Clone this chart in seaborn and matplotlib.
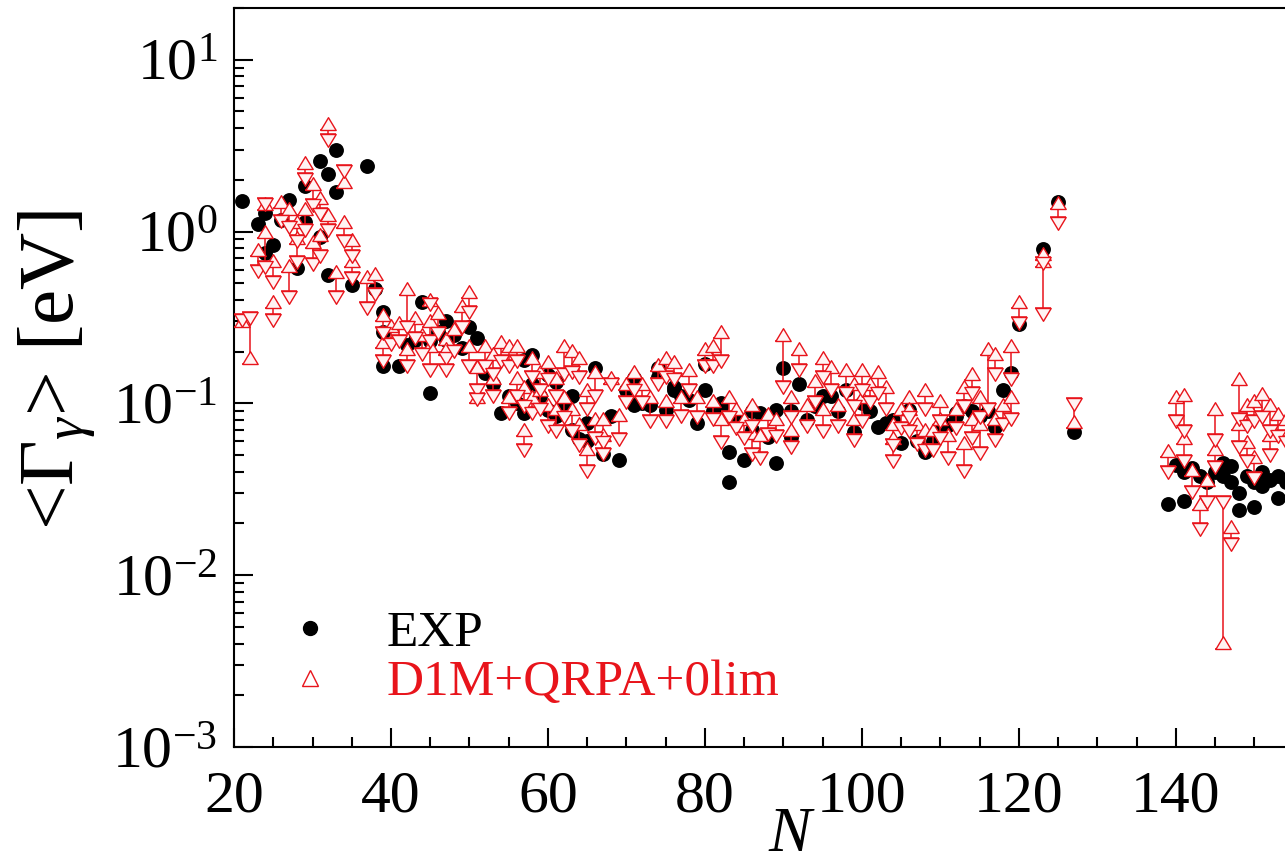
import numpy as np
import pandas as pd
import seaborn as sns
import matplotlib.pyplot as plt
from matplotlib.path import Path
from matplotlib.markers import MarkerStyle
from matplotlib.lines import Line2D
from matplotlib.ticker import LogLocator, MultipleLocator, NullFormatter, LogFormatterMathtext

# Experimental average radiative widths (N, <Gamma_gamma> in eV)
exp_N = [21, 23, 24, 24, 25, 26, 27, 28, 29, 29, 31, 31, 32, 32, 33, 33, 35, 37, 38, 39, 39, 39, 41,
         42, 43, 44, 45, 45, 46, 47, 47, 48, 49, 50, 51, 52, 53, 54, 55, 56, 57, 57, 58, 58, 59,
         60, 60, 61, 61, 62, 63, 63, 64,
         65, 65, 66, 67, 68, 69, 70, 71, 71, 72, 73, 74, 74, 75, 76, 76, 77, 78, 79, 80, 80, 81,
         82, 82, 83, 83, 84, 85, 86, 86, 87,
         88, 89, 89, 90, 91, 91, 92, 93, 94, 95, 96, 97, 98, 99, 100, 101, 102, 103, 104, 105,
         106, 107, 108, 109, 110,
         111, 112, 112, 113, 114, 115, 116, 117, 118, 119, 120, 123, 125, 127,
         139, 140, 141, 141, 142, 143, 144, 145, 146, 146, 147, 147, 148, 148, 149, 150, 150,
         151, 151, 152, 153, 153, 154]
exp_val = [1.50, 1.10, 0.75, 1.29, 0.84, 1.17, 1.52, 0.61, 1.13, 1.83, 0.93, 2.56, 2.15, 0.56,
           3.00, 1.70, 0.49, 2.40, 0.46, 0.34, 0.26, 0.165, 0.165,
           0.22, 0.235, 0.39, 0.23, 0.115, 0.26, 0.30, 0.235, 0.25, 0.21, 0.28, 0.24, 0.15, 0.13,
           0.088, 0.11, 0.10, 0.18, 0.088, 0.19, 0.13, 0.11,
           0.147, 0.092, 0.134, 0.084, 0.10, 0.11, 0.07, 0.062,
           0.077, 0.06, 0.16, 0.051, 0.084, 0.047, 0.12, 0.14, 0.098, 0.10, 0.098, 0.143, 0.16,
           0.092, 0.125, 0.12, 0.11, 0.105, 0.077, 0.17, 0.12, 0.09,
           0.095, 0.10, 0.052, 0.035, 0.08, 0.047, 0.09, 0.07, 0.088,
           0.064, 0.092, 0.045, 0.16, 0.064, 0.09, 0.13, 0.08, 0.096, 0.11, 0.11, 0.09, 0.12,
           0.068, 0.10, 0.09, 0.073, 0.077, 0.08, 0.059,
           0.092, 0.06, 0.052, 0.06, 0.07,
           0.075, 0.088, 0.084, 0.096, 0.09, 0.084, 0.09, 0.073, 0.12, 0.15, 0.29, 0.79, 1.48, 0.068,
           0.026, 0.044, 0.027, 0.040, 0.042, 0.038, 0.035, 0.040, 0.045, 0.038, 0.043, 0.035,
           0.024, 0.030, 0.038, 0.025, 0.035,
           0.033, 0.040, 0.036, 0.028, 0.038, 0.035]

# D1M+QRPA+0lim: two theoretical values per nucleus (up / down triangles)
th_N = [21, 22, 23, 24, 24, 25, 25, 26, 27, 27, 28, 28, 29, 29, 30, 30, 31, 31, 32, 32, 33, 34, 34,
        35, 35, 37, 38, 39, 39, 40, 41, 42, 42,
        43, 44, 45, 45, 45, 46, 47, 47, 48, 49, 50, 50, 51, 51, 52, 53, 53, 54, 55, 55, 56, 56,
        57, 57, 58, 58, 59, 59, 60, 60, 61, 61, 62, 62, 63, 63, 64, 64,
        65, 65, 66, 66, 67, 67, 68, 69, 70, 71, 72, 73, 74, 75, 75, 76, 77, 78, 79, 80, 81, 81,
        82, 82, 83, 84, 85, 86, 86, 87, 88,
        89, 90, 91, 91, 92, 93, 94, 95, 95, 96, 97, 98, 99, 99, 100, 100, 101, 102, 103, 104,
        104, 105, 106, 106, 107, 108, 108, 109, 110, 110,
        111, 112, 113, 113, 114, 114, 115, 115, 116, 117, 117, 118, 119, 119, 120, 123, 123,
        125, 127,
        139, 140, 141, 141, 142, 143, 144, 145, 145, 146, 147, 148, 148, 149, 149, 150, 150,
        151, 152, 152, 153, 154]
th_up = [0.28, 0.17, 0.72, 1.34, 0.92, 0.36, 0.62, 1.38, 0.58, 1.25, 0.85, 1.05, 2.30, 1.25,
         1.75, 0.80, 1.45, 0.88, 3.90, 1.15, 0.54, 1.80, 1.05, 0.82, 0.62, 0.50, 0.52, 0.30,
         0.21, 0.26, 0.27, 0.43, 0.19,
         0.29, 0.23, 0.37, 0.28, 0.20, 0.31, 0.22, 0.19, 0.25, 0.34, 0.41, 0.20, 0.15, 0.10,
         0.20, 0.18, 0.13, 0.21, 0.20, 0.10, 0.20, 0.13, 0.115, 0.065, 0.17, 0.10, 0.14, 0.11,
         0.16, 0.09, 0.13, 0.085, 0.20, 0.10, 0.185, 0.085, 0.17, 0.07,
         0.11, 0.05, 0.14, 0.075, 0.075, 0.06, 0.13, 0.079, 0.12, 0.14, 0.12, 0.10, 0.155,
         0.17, 0.095, 0.16, 0.10, 0.145, 0.10, 0.19, 0.20, 0.095, 0.24, 0.075, 0.10, 0.085,
         0.075, 0.09, 0.062, 0.06, 0.08,
         0.075, 0.23, 0.10, 0.065, 0.19, 0.09, 0.125, 0.17, 0.085, 0.15, 0.09, 0.145, 0.12,
         0.075, 0.145, 0.10, 0.12, 0.14, 0.115, 0.07, 0.058, 0.085, 0.10, 0.085, 0.07, 0.11,
         0.065, 0.065, 0.095, 0.075,
         0.06, 0.085, 0.115, 0.054, 0.137, 0.075, 0.10, 0.07, 0.19, 0.18, 0.075, 0.09, 0.20,
         0.10, 0.36, 0.62, 0.68, 1.36, 0.072,
         0.049, 0.10, 0.103, 0.058, 0.038, 0.024, 0.033, 0.085, 0.05, 0.0037, 0.0175, 0.128,
         0.07, 0.09, 0.055, 0.095, 0.045, 0.105, 0.09, 0.06, 0.08, 0.075]
th_dn = [0.33, 0.34, 0.64, 1.57, 0.67, 0.33, 0.55, 1.25, 0.45, 1.15, 0.72, 0.95, 2.20, 1.10,
         1.55, 0.70, 1.38, 0.78, 3.70, 1.10, 0.45, 2.45, 0.95, 0.78, 0.58, 0.39, 0.47, 0.28,
         0.19, 0.24, 0.25, 0.30, 0.18,
         0.26, 0.21, 0.41, 0.25, 0.17, 0.28, 0.20, 0.17, 0.22, 0.30, 0.37, 0.18, 0.13, 0.115,
         0.18, 0.16, 0.12, 0.19, 0.18, 0.095, 0.19, 0.12, 0.105, 0.058, 0.155, 0.095, 0.13, 0.10,
         0.15, 0.08, 0.12, 0.075, 0.16, 0.09, 0.165, 0.075, 0.155, 0.062,
         0.10, 0.044, 0.12, 0.068, 0.065, 0.055, 0.14, 0.067, 0.11, 0.13, 0.11, 0.085, 0.14,
         0.155, 0.085, 0.15, 0.092, 0.13, 0.09, 0.18, 0.18, 0.088, 0.19, 0.065, 0.09, 0.078,
         0.068, 0.08, 0.055, 0.052, 0.072,
         0.07, 0.135, 0.09, 0.06, 0.17, 0.08, 0.11, 0.155, 0.075, 0.13, 0.08, 0.125, 0.105,
         0.066, 0.13, 0.085, 0.11, 0.125, 0.10, 0.062, 0.05, 0.078, 0.09, 0.075, 0.063, 0.10,
         0.058, 0.058, 0.085, 0.068,
         0.052, 0.078, 0.105, 0.044, 0.125, 0.068, 0.09, 0.056, 0.10, 0.16, 0.066, 0.082, 0.15,
         0.088, 0.32, 0.36, 0.71, 1.22, 0.108,
         0.043, 0.085, 0.075, 0.05, 0.033, 0.020, 0.029, 0.066, 0.046, 0.029, 0.0165, 0.088,
         0.06, 0.08, 0.05, 0.085, 0.04, 0.09, 0.075, 0.054, 0.07, 0.065]

x_major = [20, 40, 60, 80, 100, 120, 140]

exp = pd.DataFrame({"N": exp_N, "val": exp_val})
th = pd.DataFrame({"N": th_N, "up": th_up, "dn": th_dn})
th["lo"] = th[["up", "dn"]].min(axis=1)
th["hi"] = th[["up", "dn"]].max(axis=1)
th["mid"] = 0.5 * (th["lo"] + th["hi"])

sns.set_theme(style="ticks")
plt.rcParams["font.family"] = ["Liberation Serif", "DejaVu Serif"]
plt.rcParams["mathtext.fontset"] = "custom"
plt.rcParams["mathtext.rm"] = "Liberation Serif"
plt.rcParams["mathtext.it"] = "Liberation Serif:italic"
plt.rcParams["axes.unicode_minus"] = False

fig = plt.figure(figsize=(12.85, 8.67), dpi=100)
# axes run past the right edge: the reference is cropped there
ax = fig.add_axes([234 / 1285, 120 / 867, 1099 / 1285, 739 / 867])
ax.set_yscale("log")

sns.scatterplot(data=exp, x="N", y="val", ax=ax, color="black", edgecolor="black",
                s=115, linewidth=0, zorder=2)

ax.errorbar(th["N"], th["mid"], yerr=[th["mid"] - th["lo"], th["hi"] - th["mid"]],
            fmt="none", ecolor="#e8141b", elinewidth=1.1, capsize=6, capthick=1.1, zorder=3)

# triangles sit on the bar end: base anchored at the value
up_tri = MarkerStyle(Path([(-0.6, 0.0), (0.6, 0.0), (0.0, 1.0), (-0.6, 0.0)], closed=True))
dn_tri = MarkerStyle(Path([(-0.6, 0.0), (0.6, 0.0), (0.0, -1.0), (-0.6, 0.0)], closed=True))
for col, mk in [("up", up_tri), ("dn", dn_tri)]:
    sns.scatterplot(data=th, x="N", y=col, ax=ax, marker=mk, s=340,
                    facecolor="#fff3f3", edgecolor="#e8141b", linewidth=1.0, zorder=4)

ax.set_xlim(20, 160)
ax.set_ylim(1e-3, 20)
ax.set_xticks(x_major)
ax.xaxis.set_minor_locator(MultipleLocator(5))
ax.yaxis.set_major_locator(LogLocator(base=10, numticks=10))
ax.yaxis.set_major_formatter(LogFormatterMathtext())
ax.yaxis.set_minor_locator(LogLocator(base=10, subs=np.arange(2, 10), numticks=20))
ax.yaxis.set_minor_formatter(NullFormatter())

ax.tick_params(which="both", direction="in", color="black", width=1.5,
               top=False, right=False, labelsize=43, labelcolor="black")
ax.tick_params(which="major", length=14)
ax.tick_params(which="minor", length=7)
ax.tick_params(axis="y", pad=12)
ax.tick_params(axis="x", pad=17)
for sp in ax.spines.values():
    sp.set_color("black")
    sp.set_linewidth(1.5)

ax.set_xlabel("")
ax.set_ylabel(r"<$\Gamma_\gamma$> [eV]", fontsize=57, color="black")
ax.yaxis.set_label_coords(-0.124, 0.51)
ax.text(0.506, -0.141, "N", transform=ax.transAxes, fontsize=46, style="italic",
        ha="center", va="baseline", color="black")

handles = [Line2D([], [], marker="o", color="black", ls="none", markersize=10),
           Line2D([], [], marker="^", mfc="white", mec="#e8141b", mew=1.0, ls="none", markersize=11)]
leg = ax.legend(handles, ["EXP", "D1M+QRPA+0lim"], loc="lower left",
                bbox_to_anchor=(0.022, 0.027), frameon=False, fontsize=37,
                handletextpad=0.9, handlelength=1.2, labelspacing=0.05, borderaxespad=0)
leg.get_texts()[0].set_color("black")
leg.get_texts()[1].set_color("#e8141b")

fig.savefig("out.png", dpi=100)
